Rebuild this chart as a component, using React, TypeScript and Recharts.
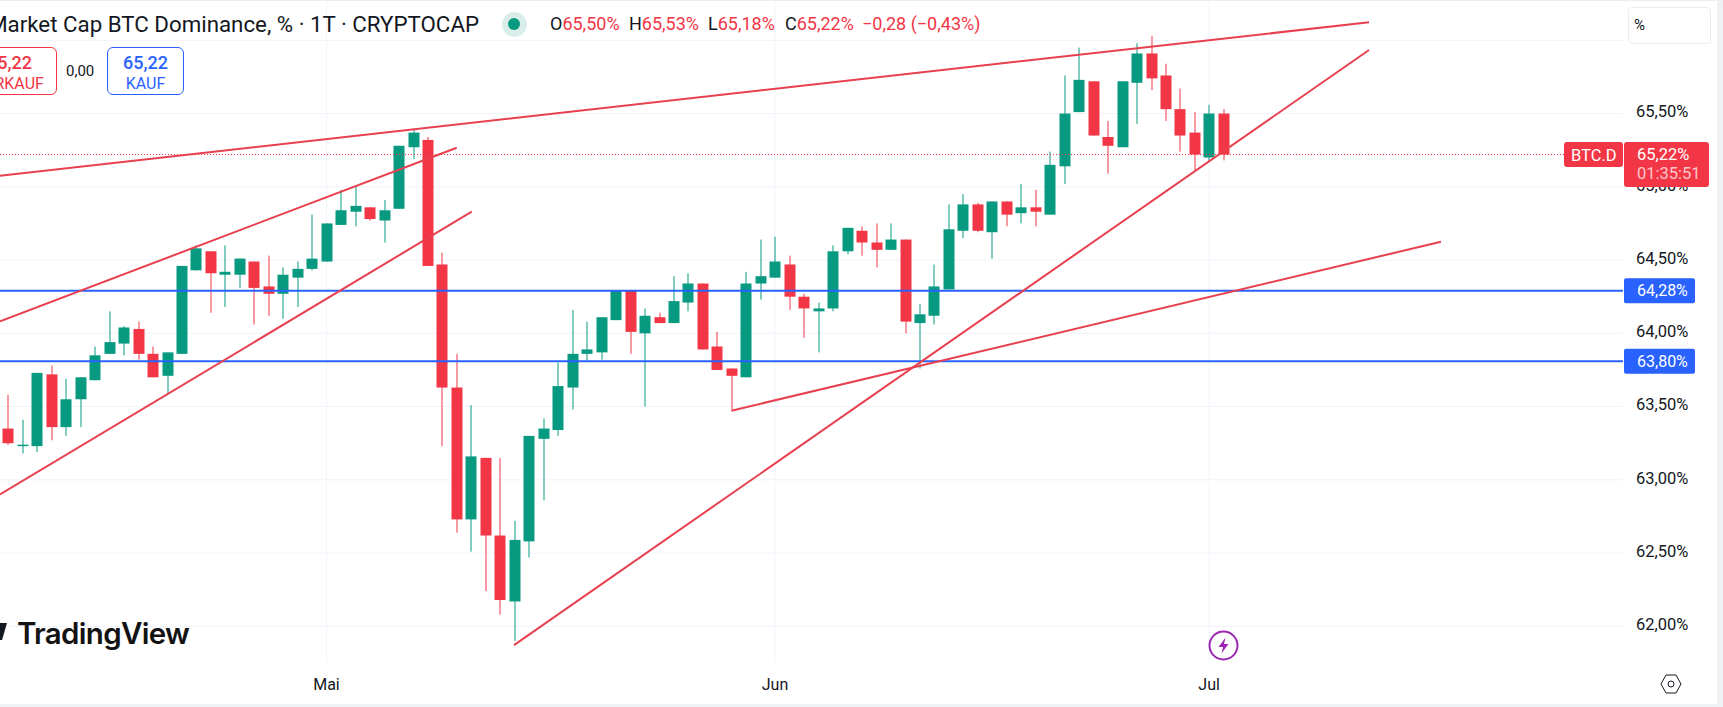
import React from 'react';
import { ComposedChart, Bar, XAxis, YAxis, CartesianGrid, ReferenceLine } from 'recharts';

// daily candles, Apr 9 to Jul 2. day 0 is May 1
const firstDay = -22;
const opens = [
  63.35, 63.23, 63.23, 63.72, 63.36, 63.55, 63.68, 63.86, 63.93, 64.03, 63.86, 63.71, 63.86, 64.43, 64.56, 64.40,
  64.40, 64.49, 64.32, 64.27, 64.38, 64.44, 64.49, 64.74, 64.83, 64.86, 64.77, 64.85, 65.27, 65.32, 64.47, 63.63,
  62.73, 63.15, 62.62, 62.17, 62.58, 63.28, 63.34, 63.63, 63.86, 63.87, 64.09, 64.29, 64.00, 64.11, 64.07, 64.21,
  64.34, 63.91, 63.76, 63.70, 64.34, 64.38, 64.47, 64.25, 64.15, 64.17, 64.56, 64.70, 64.62, 64.57, 64.64, 64.07,
  64.12, 64.30, 64.70, 64.88, 64.69, 64.90, 64.82, 64.86, 64.81, 65.14, 65.51, 65.72, 65.34, 65.27, 65.71, 65.91,
  65.76, 65.53, 65.37, 65.20, 65.50,
];
const closes = [
  63.25, 63.24, 63.73, 63.36, 63.55, 63.70, 63.85, 63.94, 64.04, 63.86, 63.70, 63.87, 64.46, 64.58, 64.41, 64.42,
  64.51, 64.31, 64.27, 64.40, 64.44, 64.51, 64.75, 64.84, 64.87, 64.78, 64.84, 65.28, 65.37, 64.46, 63.63, 62.73,
  63.16, 62.62, 62.18, 62.59, 63.30, 63.35, 63.64, 63.86, 63.89, 64.11, 64.29, 64.01, 64.12, 64.07, 64.22, 64.34,
  63.89, 63.75, 63.71, 64.34, 64.39, 64.49, 64.25, 64.17, 64.17, 64.56, 64.72, 64.62, 64.57, 64.64, 64.08, 64.13,
  64.32, 64.71, 64.88, 64.70, 64.90, 64.81, 64.86, 64.83, 65.15, 65.50, 65.73, 65.35, 65.28, 65.72, 65.91, 65.74,
  65.53, 65.35, 65.22, 65.50, 65.22,
];
const highs = [
  63.58, 63.41, 63.73, 63.78, 63.69, 63.70, 63.91, 64.15, 64.05, 64.08, 63.91, 63.87, 64.46, 64.60, 64.56, 64.60,
  64.51, 64.49, 64.53, 64.45, 64.49, 64.81, 64.75, 64.98, 65.01, 64.86, 64.91, 65.28, 65.39, 65.34, 64.55, 63.86,
  63.51, 63.15, 63.15, 62.72, 63.30, 63.42, 63.80, 64.16, 64.08, 64.11, 64.29, 64.29, 64.17, 64.14, 64.39, 64.41,
  64.34, 64.01, 63.76, 64.42, 64.64, 64.66, 64.53, 64.27, 64.21, 64.60, 64.72, 64.73, 64.75, 64.75, 64.64, 64.20,
  64.47, 64.88, 64.95, 64.89, 64.90, 64.90, 65.02, 64.98, 65.24, 65.76, 65.95, 65.72, 65.45, 65.72, 65.98, 66.03,
  65.84, 65.67, 65.51, 65.56, 65.53,
];
const lows = [
  63.24, 63.18, 63.19, 63.27, 63.30, 63.36, 63.68, 63.86, 63.85, 63.82, 63.70, 63.59, 63.86, 64.43, 64.14, 64.18,
  64.31, 64.06, 64.12, 64.10, 64.18, 64.43, 64.49, 64.74, 64.73, 64.77, 64.62, 64.85, 65.19, 64.46, 63.23, 62.64,
  62.51, 62.24, 62.08, 61.90, 62.47, 62.86, 63.30, 63.48, 63.81, 63.82, 64.09, 63.86, 63.50, 64.07, 64.07, 64.15,
  63.89, 63.75, 63.48, 63.70, 64.23, 64.38, 64.16, 63.97, 63.87, 64.15, 64.54, 64.53, 64.45, 64.57, 64.00, 63.76,
  64.06, 64.30, 64.65, 64.69, 64.51, 64.73, 64.75, 64.73, 64.81, 65.02, 65.51, 65.35, 65.09, 65.27, 65.43, 65.66,
  65.45, 65.24, 65.11, 65.17, 65.18,
];

const priceTicks = [62, 62.5, 63, 63.5, 64, 64.5, 65, 65.5, 66];
const dayTicks = [0, 31, 61];
const dayLabels = ['Mai', 'Jun', 'Jul'];

// hand drawn trend lines: [day, value, day, value]
const trendLines = [
  [-22.56, 65.076, 72.05, 66.123],
  [-22.56, 64.082, 9.0, 65.267],
  [-22.56, 62.9, 10.04, 64.83],
  [12.96, 61.872, 72.05, 65.934],
  [27.98, 63.472, 77.02, 64.625],
];
const levels = [64.29, 63.81];
const levelLabels = ['64,28%', '63,80%'];
const lastPrice = 65.22;

const dayDomain = [-22.56, 89.6];
const priceDomain = [61.75, 66.275];

const UP = '#089981';
const DOWN = '#f23645';
const BLUE = '#2962ff';
const TEXT = '#131722';
const GRID = '#f0f3fa';
const FONT = 'Roboto, sans-serif';

const candles = opens.map((open, i) => ({
  day: firstDay + i,
  open,
  close: closes[i],
  high: highs[i],
  low: lows[i],
}));

const Candle = (props: any) => {
  const { x, y, width, height, payload } = props;
  const { open, close, high, low } = payload;
  const color = close >= open ? UP : DOWN;
  const perUnit = height / (high - low || 1);
  const top = y + (high - Math.max(open, close)) * perUnit;
  const bodyH = Math.max(Math.abs(open - close) * perUnit, 1);
  const mid = Math.round(x + width / 2);
  return (
    <g>
      <rect x={mid - 0.5} y={y} width={1} height={height} fill={color} />
      <rect x={mid - 5.5} y={top} width={11} height={bodyH} fill={color} />
    </g>
  );
};

const LevelTag = (props: any) => {
  const { viewBox, text } = props;
  const x = viewBox.x + viewBox.width + 1;
  return (
    <g>
      <rect x={x} y={viewBox.y - 12.5} width={71} height={25} rx={2} fill={BLUE} />
      <text x={x + 13} y={viewBox.y + 5.5} fill="#fff" fontSize={16} fontFamily={FONT}>{text}</text>
    </g>
  );
};

const LastTag = (props: any) => {
  const { viewBox } = props;
  const x = viewBox.x + viewBox.width;
  const y = viewBox.y;
  return (
    <g>
      <rect x={x - 59} y={y - 12.5} width={59} height={25} rx={3} fill={DOWN} />
      <rect x={x + 1} y={y - 12.5} width={85} height={45} rx={3} fill={DOWN} />
      <text x={x - 52} y={y + 6} fill="#fff" fontSize={16.5} fontFamily={FONT}>BTC.D</text>
      <text x={x + 14} y={y + 5} fill="#fff" fontSize={16.5} fontFamily={FONT}>65,22%</text>
      <text x={x + 14} y={y + 24} fill="#fdc5ca" fontSize={16.5} fontFamily={FONT}>01:35:51</text>
    </g>
  );
};

const abs = (style: React.CSSProperties): React.CSSProperties => ({
  position: 'absolute',
  whiteSpace: 'nowrap',
  fontFamily: FONT,
  ...style,
});

const ohlc = [
  ['O', '65,50%', 550],
  ['H', '65,53%', 629],
  ['L', '65,18%', 708],
  ['C', '65,22%', 785],
];

const Header = () => (
  <>
    <div style={abs({ right: 1244, top: 11, fontSize: 22.3, lineHeight: '26px', color: TEXT })}>
      Market Cap BTC Dominance, % · 1T · CRYPTOCAP
    </div>
    <div style={abs({ left: 502, top: 12, width: 25, height: 25, borderRadius: 13, background: '#d9eeea' })} />
    <div style={abs({ left: 508, top: 18, width: 12, height: 12, borderRadius: 6, background: UP })} />
    {ohlc.map(([k, v, x]) => (
      <div key={k as string} style={abs({ left: x as number, top: 13, fontSize: 18, lineHeight: '22px', color: TEXT })}>
        {k}<span style={{ color: DOWN }}>{v}</span>
      </div>
    ))}
    <div style={abs({ left: 862, top: 13, fontSize: 18, lineHeight: '22px', color: DOWN })}>−0,28 (−0,43%)</div>

    <div style={abs({ left: -38, top: 47, width: 93, height: 46, border: `1px solid ${DOWN}`, borderRadius: 6, textAlign: 'center', color: DOWN })}>
      <div style={{ fontSize: 18, fontWeight: 500, lineHeight: '22px', marginTop: 4 }}>65,22</div>
      <div style={{ fontSize: 16, lineHeight: '20px' }}>VERKAUF</div>
    </div>
    <div style={abs({ left: 66, top: 61, fontSize: 15, lineHeight: '20px', color: TEXT })}>0,00</div>
    <div style={abs({ left: 107, top: 47, width: 75, height: 46, border: `1px solid ${BLUE}`, borderRadius: 6, textAlign: 'center', color: BLUE })}>
      <div style={{ fontSize: 18, fontWeight: 500, lineHeight: '22px', marginTop: 4 }}>65,22</div>
      <div style={{ fontSize: 16, lineHeight: '20px' }}>KAUF</div>
    </div>

    <div style={abs({ left: 1628, top: 7, width: 81, height: 35, border: '1px solid #e9ecf2', borderRadius: 4, background: '#fff', boxSizing: 'content-box' })}>
      <span style={{ position: 'absolute', left: 5, top: 8, fontSize: 15, color: TEXT }}>%</span>
    </div>
  </>
);

const Logo = () => (
  <>
    <svg style={{ position: 'absolute', left: 0, top: 620 }} width={10} height={24}>
      <polygon points="0,3 7,3 2,20 0,20" fill="#131722" />
    </svg>
    <div style={abs({ left: 17, top: 616, fontSize: 29.5, lineHeight: '34px', fontWeight: 600, fontFamily: 'Inter, sans-serif', letterSpacing: -0.7, color: '#131313' })}>
      TradingView
    </div>
  </>
);

const Icons = () => (
  <>
    <svg style={{ position: 'absolute', left: 1208, top: 630 }} width={31} height={31}>
      <circle cx={15.5} cy={15.5} r={14} fill="#fff" stroke="#9c27b0" strokeWidth={2} />
      <polygon points="17.5,7.5 10.5,17 15,17 13.5,23.5 20.5,14 16,14" fill="#9c27b0" />
    </svg>
    <svg style={{ position: 'absolute', left: 1660, top: 673 }} width={22} height={22}>
      <polygon points="6,2 16,2 21,11 16,20 6,20 1,11" fill="none" stroke={TEXT} strokeWidth={1} />
      <circle cx={11} cy={11} r={3} fill="none" stroke={TEXT} strokeWidth={1} />
    </svg>
  </>
);

export default function App() {
  return (
    <div style={{ position: 'absolute', left: 0, top: 0, width: 1723, height: 707, overflow: 'hidden', background: '#fff' }}>
      <ComposedChart
        width={1723}
        height={707}
        data={candles}
        margin={{ top: 0, right: 0, bottom: 0, left: 0 }}
      >
        <CartesianGrid stroke={GRID} syncWithTicks />
        <XAxis
          dataKey="day"
          type="number"
          domain={dayDomain}
          ticks={dayTicks}
          tickFormatter={(d: number) => dayLabels[dayTicks.indexOf(d)]}
          height={44}
          allowDataOverflow
          axisLine={false}
          tickLine={false}
          tick={{ fill: TEXT, fontSize: 16, fontFamily: FONT }}
          tickMargin={10}
        />
        <YAxis
          orientation="right"
          type="number"
          domain={priceDomain}
          ticks={priceTicks}
          width={100}
          allowDataOverflow
          axisLine={false}
          tickLine={false}
          tick={{ fill: TEXT, fontSize: 16.5, fontFamily: FONT, dy: -2 }}
          tickMargin={7}
          tickFormatter={(v: number) => (v === 66 ? '' : v.toFixed(2).replace('.', ',') + '%')}
        />
        {levels.map((v, i) => (
          <ReferenceLine key={v} y={v} stroke={BLUE} strokeWidth={2} label={<LevelTag text={levelLabels[i]} />} />
        ))}
        {trendLines.map((t, i) => (
          <ReferenceLine
            key={i}
            stroke="#e8404f"
            strokeWidth={2}
            segment={[{ x: t[0], y: t[1] }, { x: t[2], y: t[3] }]}
          />
        ))}
        <Bar
          dataKey={(d: any) => [d.low, d.high]}
          barSize={11}
          shape={<Candle />}
          isAnimationActive={false}
        />
      </ComposedChart>

      {/* second layer so the price line and its tag sit above candles and axis labels */}
      <div style={{ position: 'absolute', left: 0, top: 0 }}>
        <ComposedChart
          width={1723}
          height={707}
          data={candles}
          margin={{ top: 0, right: 100, bottom: 44, left: 0 }}
        >
          <XAxis dataKey="day" type="number" domain={dayDomain} allowDataOverflow hide />
          <YAxis type="number" domain={priceDomain} allowDataOverflow hide />
          <ReferenceLine y={lastPrice} stroke={DOWN} strokeWidth={1} strokeDasharray="1 2" label={<LastTag />} />
        </ComposedChart>
      </div>

      <Header />
      <Logo />
      <Icons />
      <div style={{ position: 'absolute', left: 1717, top: 0, width: 6, height: 707, background: '#f0f1f4' }} />
      <div style={{ position: 'absolute', left: 0, top: 704, width: 1723, height: 3, background: '#f0f1f4' }} />
      <div style={{ position: 'absolute', left: 0, top: 0, width: 1723, height: 1, background: '#eceef2' }} />
    </div>
  );
}
